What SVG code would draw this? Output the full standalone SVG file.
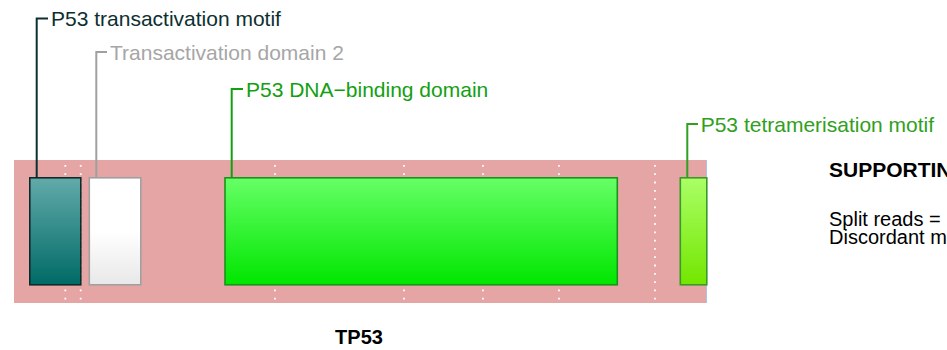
<svg xmlns="http://www.w3.org/2000/svg" width="947" height="350" viewBox="0 0 947 350">
<defs>
<linearGradient id="gTeal" x1="0" y1="0" x2="0" y2="1"><stop offset="0" stop-color="#62aaaa"/><stop offset="1" stop-color="#006a66"/></linearGradient>
<linearGradient id="gWhite" x1="0" y1="0" x2="0" y2="1"><stop offset="0" stop-color="#ffffff"/><stop offset="0.5" stop-color="#ffffff"/><stop offset="1" stop-color="#e8e8e8"/></linearGradient>
<linearGradient id="gGreen" x1="0" y1="0" x2="0" y2="1"><stop offset="0" stop-color="#66ff66"/><stop offset="1" stop-color="#00e600"/></linearGradient>
<linearGradient id="gLime" x1="0" y1="0" x2="0" y2="1"><stop offset="0" stop-color="#aaff66"/><stop offset="1" stop-color="#73e600"/></linearGradient>
</defs>
<style>
text{font-family:"Liberation Sans",Arial,sans-serif;font-size:20px}
.lab{font-size:21px}
.b{font-weight:bold}
.dot{stroke:#ffffff;stroke-width:1.8;stroke-dasharray:1.8 6.5;fill:none}
.br{fill:none;stroke-width:2}
</style>
<rect x="14" y="160" width="693" height="143" fill="#e5a5a5"/>
<line x1="706.5" y1="160" x2="706.5" y2="303" stroke="#a8c4e8" stroke-width="1"/>
<g id="gridlines">
<line class="dot" x1="65.3" y1="165" x2="65.3" y2="302"/>
<line class="dot" x1="80.7" y1="165" x2="80.7" y2="302"/>
<line class="dot" x1="275" y1="165" x2="275" y2="302"/>
<line class="dot" x1="404" y1="165" x2="404" y2="302"/>
<line class="dot" x1="483" y1="165" x2="483" y2="302"/>
<line class="dot" x1="559" y1="165" x2="559" y2="302"/>
<line class="dot" x1="655" y1="165" x2="655" y2="302"/>
</g>
<g id="connectors">
<polyline class="br" stroke="#0c3030" points="48,18.5 36.7,18.5 36.7,177.5"/>
<polyline class="br" stroke="#a0a0a0" points="107,52 96.3,52 96.3,177.5"/>
<polyline class="br" stroke="#12a012" points="243,89 231.7,89 231.7,177.5"/>
<polyline class="br" stroke="#30a020" points="698,124 687.3,124 687.3,177.5"/>
</g>
<g id="tam">
<rect x="29.8" y="177.8" width="51" height="107" fill="url(#gTeal)" stroke="#0e2a2a" stroke-width="1.6"/>
<text class="lab" x="51" y="26" fill="#0c3030">P53 transactivation motif</text>
</g>
<g id="tad2">
<rect x="89.3" y="177.8" width="51.5" height="107" fill="url(#gWhite)" stroke="#a0a0a0" stroke-width="1.6"/>
<text class="lab" x="110" y="60" fill="#a6a6a6">Transactivation domain 2</text>
</g>
<g id="dbd">
<rect x="225" y="177.8" width="392.3" height="107" fill="url(#gGreen)" stroke="#18941a" stroke-width="1.6"/>
<text class="lab" x="246" y="97" fill="#12a012">P53 DNA−binding domain</text>
</g>
<g id="tet">
<rect x="680.3" y="177.8" width="26.5" height="107" fill="url(#gLime)" stroke="#3a9a28" stroke-width="1.6"/>
<text class="lab" x="700.7" y="132" fill="#30a020">P53 tetramerisation motif</text>
</g>
<g id="gene-label">
<text class="b" x="359" y="344" text-anchor="middle" fill="#000">TP53</text>
</g>
<g id="supporting">
<text class="b lab" x="829" y="177" fill="#000">SUPPORTING</text>
<text x="829" y="226" fill="#000">Split reads =</text>
<text x="829" y="244" fill="#000">Discordant mates</text>
</g>
</svg>
